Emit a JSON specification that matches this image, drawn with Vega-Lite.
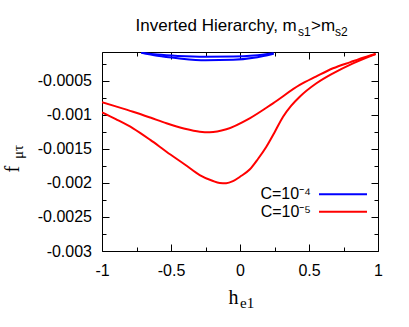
{
  "$schema": "https://vega.github.io/schema/vega-lite/v6.json",
  "width": 276,
  "height": 199,
  "autosize": {"type": "none"},
  "padding": {"left": 102, "top": 52, "right": 31, "bottom": 76},
  "background": "white",
  "config": {
    "view": {"stroke": "black", "strokeWidth": 1},
    "axis": {"grid": false, "domain": false, "tickColor": "black", "tickWidth": 1, "labelFont": "Liberation Sans", "labelFontSize": 16, "labelColor": "black", "labelFlush": false, "labelOverlap": false, "labelBound": false, "titleFont": "Liberation Serif", "titleColor": "black", "titleFontWeight": "normal"}
  },
  "data": {"values": [
    {"h": -1.0, "f": -0.000818, "C": "C=10⁻⁵", "b": "r1"},
    {"h": -0.9, "f": -0.000878, "C": "C=10⁻⁵", "b": "r1"},
    {"h": -0.775, "f": -0.000956, "C": "C=10⁻⁵", "b": "r1"},
    {"h": -0.65, "f": -0.001042, "C": "C=10⁻⁵", "b": "r1"},
    {"h": -0.533, "f": -0.001126, "C": "C=10⁻⁵", "b": "r1"},
    {"h": -0.4, "f": -0.001205, "C": "C=10⁻⁵", "b": "r1"},
    {"h": -0.292, "f": -0.001249, "C": "C=10⁻⁵", "b": "r1"},
    {"h": -0.22, "f": -0.001258, "C": "C=10⁻⁵", "b": "r1"},
    {"h": -0.099, "f": -0.001214, "C": "C=10⁻⁵", "b": "r1"},
    {"h": 0.07, "f": -0.001053, "C": "C=10⁻⁵", "b": "r1"},
    {"h": 0.239, "f": -0.000833, "C": "C=10⁻⁵", "b": "r1"},
    {"h": 0.433, "f": -0.000564, "C": "C=10⁻⁵", "b": "r1"},
    {"h": 0.55, "f": -0.000442, "C": "C=10⁻⁵", "b": "r1"},
    {"h": 0.674, "f": -0.000319, "C": "C=10⁻⁵", "b": "r1"},
    {"h": 0.8, "f": -0.000228, "C": "C=10⁻⁵", "b": "r1"},
    {"h": 0.916, "f": -0.000149, "C": "C=10⁻⁵", "b": "r1"},
    {"h": 0.983, "f": -0.000109, "C": "C=10⁻⁵", "b": "r1"},
    {"h": -1.0, "f": -0.000965, "C": "C=10⁻⁵", "b": "r2"},
    {"h": -0.9, "f": -0.001065, "C": "C=10⁻⁵", "b": "r2"},
    {"h": -0.775, "f": -0.0012, "C": "C=10⁻⁵", "b": "r2"},
    {"h": -0.65, "f": -0.00137, "C": "C=10⁻⁵", "b": "r2"},
    {"h": -0.533, "f": -0.001543, "C": "C=10⁻⁵", "b": "r2"},
    {"h": -0.4, "f": -0.00173, "C": "C=10⁻⁵", "b": "r2"},
    {"h": -0.292, "f": -0.001885, "C": "C=10⁻⁵", "b": "r2"},
    {"h": -0.2, "f": -0.00197, "C": "C=10⁻⁵", "b": "r2"},
    {"h": -0.147, "f": -0.002002, "C": "C=10⁻⁵", "b": "r2"},
    {"h": -0.1, "f": -0.002005, "C": "C=10⁻⁵", "b": "r2"},
    {"h": -0.051, "f": -0.001975, "C": "C=10⁻⁵", "b": "r2"},
    {"h": 0.0, "f": -0.00191, "C": "C=10⁻⁵", "b": "r2"},
    {"h": 0.07, "f": -0.001805, "C": "C=10⁻⁵", "b": "r2"},
    {"h": 0.13, "f": -0.00165, "C": "C=10⁻⁵", "b": "r2"},
    {"h": 0.191, "f": -0.00147, "C": "C=10⁻⁵", "b": "r2"},
    {"h": 0.25, "f": -0.00126, "C": "C=10⁻⁵", "b": "r2"},
    {"h": 0.312, "f": -0.001029, "C": "C=10⁻⁵", "b": "r2"},
    {"h": 0.37, "f": -0.00087, "C": "C=10⁻⁵", "b": "r2"},
    {"h": 0.433, "f": -0.000736, "C": "C=10⁻⁵", "b": "r2"},
    {"h": 0.554, "f": -0.000539, "C": "C=10⁻⁵", "b": "r2"},
    {"h": 0.674, "f": -0.000393, "C": "C=10⁻⁵", "b": "r2"},
    {"h": 0.819, "f": -0.000246, "C": "C=10⁻⁵", "b": "r2"},
    {"h": 0.983, "f": -0.000109, "C": "C=10⁻⁵", "b": "r2"},
    {"h": -0.715, "f": -0.000092, "C": "C=10⁻⁴", "b": "b1"},
    {"h": -0.6, "f": -0.000118, "C": "C=10⁻⁴", "b": "b1"},
    {"h": -0.45, "f": -0.000138, "C": "C=10⁻⁴", "b": "b1"},
    {"h": -0.25, "f": -0.00015, "C": "C=10⁻⁴", "b": "b1"},
    {"h": -0.05, "f": -0.000147, "C": "C=10⁻⁴", "b": "b1"},
    {"h": 0.1, "f": -0.000132, "C": "C=10⁻⁴", "b": "b1"},
    {"h": 0.244, "f": -0.000098, "C": "C=10⁻⁴", "b": "b1"},
    {"h": -0.715, "f": -0.000092, "C": "C=10⁻⁴", "b": "b2"},
    {"h": -0.6, "f": -0.000135, "C": "C=10⁻⁴", "b": "b2"},
    {"h": -0.45, "f": -0.000172, "C": "C=10⁻⁴", "b": "b2"},
    {"h": -0.25, "f": -0.000202, "C": "C=10⁻⁴", "b": "b2"},
    {"h": -0.05, "f": -0.000195, "C": "C=10⁻⁴", "b": "b2"},
    {"h": 0.1, "f": -0.000165, "C": "C=10⁻⁴", "b": "b2"},
    {"h": 0.244, "f": -0.000105, "C": "C=10⁻⁴", "b": "b2"}
  ]},
  "resolve": {"axis": {"x": "independent", "y": "independent"}},
  "layer": [
    {
      "mark": {"type": "line", "clip": true, "strokeWidth": 2, "interpolate": "monotone"},
      "encoding": {
        "x": {"field": "h", "type": "quantitative", "scale": {"domain": [-1, 1], "nice": false, "zero": false},
          "axis": {"orient": "bottom", "values": [-1, -0.5, 0, 0.5, 1], "tickSize": -7, "labelPadding": 31.5, "labelBaseline": "alphabetic",
            "labelExpr": "(datum.value < 0 ? '-' : '') + format(abs(datum.value), '~g')",
            "title": "h", "titleFontSize": 20, "titleX": 126, "titleY": 52.3, "titleAlign": "left", "titleBaseline": "alphabetic", "titleAngle": 0}},
        "y": {"field": "f", "type": "quantitative", "scale": {"domain": [-0.003, -0.00008], "nice": false, "zero": false},
          "axis": {"orient": "left", "values": [-0.003, -0.0025, -0.002, -0.0015, -0.001, -0.0005], "tickSize": -7, "labelPadding": 17.5,
            "labelExpr": "(datum.value < 0 ? '-' : '') + format(abs(datum.value), '~g')",
            "title": "f", "titleFontSize": 20, "titleX": -84, "titleY": 120, "titleAlign": "left", "titleBaseline": "alphabetic", "titleAngle": -90}},
        "color": {"field": "C", "type": "nominal", "scale": {"domain": ["C=10⁻⁴", "C=10⁻⁵"], "range": ["#0000ff", "#ff0000"]},
          "legend": {"title": null, "orient": "none", "legendX": 232, "legendY": 133.3, "symbolType": "M-3,0H3", "symbolSize": 256, "symbolStrokeWidth": 2, "rowPadding": 0.4, "labelAlign": "right", "labelOffset": -41, "labelFont": "Liberation Sans", "labelFontSize": 16, "labelColor": "black", "padding": 0, "labelLimit": 200}},
        "detail": {"field": "b"}
      }
    },
    {
      "mark": {"type": "point", "opacity": 0},
      "encoding": {
        "x": {"field": "h", "type": "quantitative", "scale": {"domain": [-1, 1], "nice": false, "zero": false},
          "axis": {"orient": "bottom", "values": [-0.75, -0.25, 0.25, 0.75], "tickSize": -4, "labels": false,
            "title": "e1", "titleFontSize": 15, "titleX": 137.5, "titleY": 56.3, "titleAlign": "left", "titleBaseline": "alphabetic", "titleAngle": 0}},
        "y": {"field": "f", "type": "quantitative", "scale": {"domain": [-0.003, -0.00008], "nice": false, "zero": false},
          "axis": {"orient": "left", "values": [-0.00275, -0.00225, -0.00175, -0.00125, -0.00075, -0.00025], "tickSize": -4, "labels": false,
            "title": "μτ", "titleFontSize": 15, "titleX": -80, "titleY": 106.5, "titleAlign": "left", "titleBaseline": "alphabetic", "titleAngle": -90}}
      }
    },
    {
      "mark": {"type": "point", "opacity": 0},
      "encoding": {
        "x": {"field": "h", "type": "quantitative", "scale": {"domain": [-1, 1], "nice": false, "zero": false},
          "axis": {"orient": "top", "values": [-1, -0.5, 0, 0.5, 1], "tickSize": -7, "labels": false,
            "title": "Inverted Hierarchy, m", "titleFont": "Liberation Sans", "titleFontSize": 17, "titleX": 33, "titleY": -21.3, "titleAlign": "left", "titleBaseline": "alphabetic", "titleAngle": 0}},
        "y": {"field": "f", "type": "quantitative", "scale": {"domain": [-0.003, -0.00008], "nice": false, "zero": false},
          "axis": {"orient": "right", "values": [-0.003, -0.0025, -0.002, -0.0015, -0.001, -0.0005], "tickSize": -7, "labels": false, "title": null}}
      }
    },
    {
      "mark": {"type": "point", "opacity": 0},
      "encoding": {
        "x": {"field": "h", "type": "quantitative", "scale": {"domain": [-1, 1], "nice": false, "zero": false},
          "axis": {"orient": "top", "values": [-0.75, -0.25, 0.25, 0.75], "tickSize": -4, "labels": false,
            "title": "s1", "titleFont": "Liberation Sans", "titleFontSize": 12, "titleX": 195.5, "titleY": -16.5, "titleAlign": "left", "titleBaseline": "alphabetic", "titleAngle": 0}},
        "y": {"field": "f", "type": "quantitative", "scale": {"domain": [-0.003, -0.00008], "nice": false, "zero": false},
          "axis": {"orient": "right", "values": [-0.00275, -0.00225, -0.00175, -0.00125, -0.00075, -0.00025], "tickSize": -4, "labels": false, "title": null}}
      }
    },
    {
      "mark": {"type": "point", "opacity": 0},
      "encoding": {
        "x": {"field": "h", "type": "quantitative", "scale": {"domain": [-1, 1], "nice": false, "zero": false},
          "axis": {"orient": "top", "ticks": false, "labels": false,
            "title": ">m", "titleFont": "Liberation Sans", "titleFontSize": 17, "titleX": 208.5, "titleY": -21.3, "titleAlign": "left", "titleBaseline": "alphabetic", "titleAngle": 0}},
        "y": {"field": "f", "type": "quantitative", "scale": {"domain": [-0.003, -0.00008], "nice": false, "zero": false}, "axis": null}
      }
    },
    {
      "mark": {"type": "point", "opacity": 0},
      "encoding": {
        "x": {"field": "h", "type": "quantitative", "scale": {"domain": [-1, 1], "nice": false, "zero": false},
          "axis": {"orient": "top", "ticks": false, "labels": false,
            "title": "s2", "titleFont": "Liberation Sans", "titleFontSize": 12, "titleX": 232.5, "titleY": -16.5, "titleAlign": "left", "titleBaseline": "alphabetic", "titleAngle": 0}},
        "y": {"field": "f", "type": "quantitative", "scale": {"domain": [-0.003, -0.00008], "nice": false, "zero": false}, "axis": null}
      }
    }
  ]
}
